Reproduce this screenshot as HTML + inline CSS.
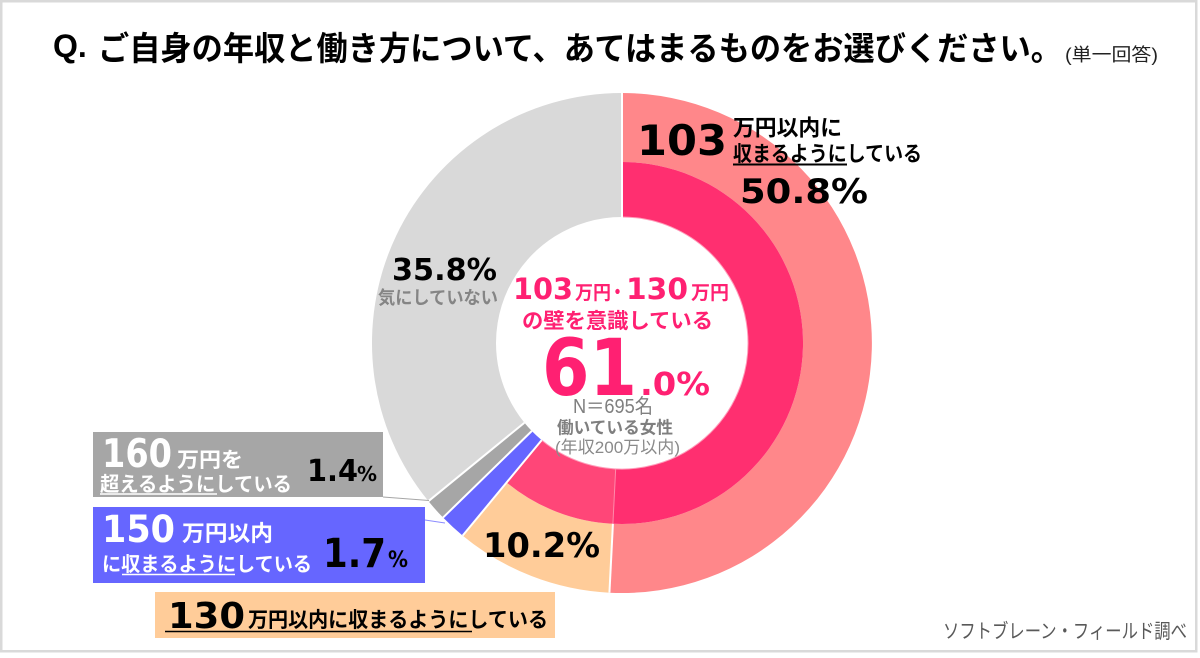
<!DOCTYPE html>
<html><head><meta charset="utf-8"><style>
html,body{margin:0;padding:0;background:#fff;}
svg{display:block;}
.jp{font-family:"Liberation Sans","Noto Sans CJK JP",sans-serif;}
.num{font-family:"DejaVu Sans","Liberation Sans",sans-serif;font-weight:bold;}
</style></head><body>
<svg width="1200" height="658" viewBox="0 0 1200 658" xmlns="http://www.w3.org/2000/svg">
<rect x="0" y="0" width="1200" height="658" fill="#fff"/>
<rect x="1.25" y="1.25" width="1195" height="650" fill="#fff" stroke="#D9D9D9" stroke-width="2.5"/>

<!-- Title -->
<text x="53" y="57" font-family="Liberation Sans, sans-serif" font-weight="bold" font-size="32" fill="#000">Q.</text>
<text class="jp" x="98" y="60" font-size="33" font-weight="bold" fill="#000" textLength="964" lengthAdjust="spacingAndGlyphs">ご自身の年収と働き方について、あてはまるものをお選びください。</text>
<text class="jp" x="1065" y="61" font-size="18" fill="#222" textLength="93" lengthAdjust="spacingAndGlyphs">(単一回答)</text>

<!-- Donut -->
<g>
<path d="M622 93 A250 250 0 1 1 609.44 592.69 L612.91 523.77 A181 181 0 1 0 622 162 Z" fill="#FF878A"/>
<path d="M609.44 592.69 A250 250 0 0 1 462.64 535.63 L506.63 482.46 A181 181 0 0 0 612.91 523.77 Z" fill="#FFCC99"/>
<path d="M622 162 A181 181 0 1 1 612.91 523.77 L615.67 468.84 A126 126 0 1 0 622 217 Z" fill="#FF2F70"/>
<path d="M612.91 523.77 A181 181 0 0 1 506.63 482.46 L541.69 440.08 A126 126 0 0 0 615.67 468.84 Z" fill="#FF4678"/>
<path d="M462.64 535.63 A250 250 0 0 1 443.03 517.56 L531.80 430.98 A126 126 0 0 0 541.69 440.08 Z" fill="#6666FF"/>
<path d="M443.03 517.56 A250 250 0 0 1 428.40 501.18 L524.43 422.72 A126 126 0 0 0 531.80 430.98 Z" fill="#A6A6A6"/>
<path d="M428.40 501.18 A250 250 0 0 1 622 93 L622 217 A126 126 0 0 0 524.43 422.72 Z" fill="#D9D9D9"/>
<path d="M622 217 A126 126 0 1 1 541.69 440.08" fill="none" stroke="#FF9DBA" stroke-width="1"/>
<g stroke="#fff" stroke-width="2">
<line x1="622" y1="92" x2="622" y2="218"/>
<line x1="609.44" y1="592.69" x2="612.91" y2="523.77"/>
<line x1="462.64" y1="535.63" x2="541.69" y2="440.08"/>
<line x1="443.03" y1="517.56" x2="531.80" y2="430.98"/>
<line x1="428.40" y1="501.18" x2="524.43" y2="422.72"/>
</g>
<line x1="612.91" y1="523.77" x2="615.67" y2="468.84" stroke="#FF8AAA" stroke-width="1"/>
</g>

<!-- 103 label -->
<text class="num" x="637" y="155" font-size="42" fill="#000" textLength="90" lengthAdjust="spacingAndGlyphs">103</text>
<text class="jp" x="733" y="135.5" font-size="22" font-weight="bold" fill="#000" textLength="109" lengthAdjust="spacingAndGlyphs">万円以内に</text>
<text class="jp" x="733" y="161" font-size="21" font-weight="bold" fill="#000" textLength="189" lengthAdjust="spacingAndGlyphs">収まるようにしている</text>
<line x1="733" y1="164.5" x2="847" y2="164.5" stroke="#000" stroke-width="2"/>
<text class="num" x="740" y="203" font-size="34" fill="#000" textLength="128" lengthAdjust="spacingAndGlyphs">50.8%</text>

<!-- 35.8% -->
<text class="num" x="392" y="280" font-size="30" fill="#000" textLength="105" lengthAdjust="spacingAndGlyphs">35.8%</text>
<text class="jp" x="378" y="304" font-size="18" font-weight="bold" fill="#858585" textLength="120" lengthAdjust="spacingAndGlyphs">気にしていない</text>

<!-- Center -->
<g fill="#FF2072">
<text class="num" x="513" y="299" font-size="29" textLength="60" lengthAdjust="spacingAndGlyphs">103</text>
<text class="jp" x="575" y="299" font-size="19" font-weight="bold" textLength="36" lengthAdjust="spacingAndGlyphs">万円</text>
<text class="jp" x="609" y="299" font-size="20" font-weight="bold" textLength="17" lengthAdjust="spacingAndGlyphs">・</text>
<text class="num" x="626" y="299" font-size="29" textLength="62" lengthAdjust="spacingAndGlyphs">130</text>
<text class="jp" x="691" y="299" font-size="19" font-weight="bold" textLength="38" lengthAdjust="spacingAndGlyphs">万円</text>
<text class="jp" x="522" y="328" font-size="21" font-weight="bold" textLength="191" lengthAdjust="spacingAndGlyphs">の壁を意識している</text>
<text class="num" x="542" y="395" font-size="78" textLength="95" lengthAdjust="spacingAndGlyphs">61</text>
<text class="num" x="640" y="395" font-size="32" textLength="70" lengthAdjust="spacingAndGlyphs">.0%</text>
</g>
<text class="jp" x="573" y="413" font-size="20" fill="#808080" textLength="80" lengthAdjust="spacingAndGlyphs">N＝695名</text>
<text class="jp" x="557" y="433.5" font-size="17" font-weight="bold" fill="#7F7F7F" textLength="116" lengthAdjust="spacingAndGlyphs">働いている女性</text>
<text class="jp" x="555" y="453" font-size="17" fill="#8A8A8A" textLength="125" lengthAdjust="spacingAndGlyphs">(年収200万以内)</text>

<!-- leader lines -->
<line x1="383" y1="497" x2="429" y2="500.5" stroke="#A6A6A6" stroke-width="1"/>
<line x1="425" y1="520" x2="445" y2="523" stroke="#8C8CFF" stroke-width="1"/>

<!-- 160 box -->
<rect x="93" y="432" width="290" height="65" fill="#A6A6A6"/>
<text class="num" x="102" y="467" font-size="39" fill="#fff" textLength="70" lengthAdjust="spacingAndGlyphs">160</text>
<text class="jp" x="177" y="467" font-size="21" font-weight="bold" fill="#fff" textLength="66" lengthAdjust="spacingAndGlyphs">万円を</text>
<text class="jp" x="100" y="491" font-size="20" font-weight="bold" fill="#fff" textLength="192" lengthAdjust="spacingAndGlyphs">超えるようにしている</text>
<line x1="100" y1="494" x2="217" y2="494" stroke="#fff" stroke-width="1.5"/>
<text class="num" x="307" y="481" font-size="30" fill="#000" textLength="51" lengthAdjust="spacingAndGlyphs">1.4</text>
<text class="num" x="357" y="481" font-size="20" fill="#000" textLength="20" lengthAdjust="spacingAndGlyphs">%</text>

<!-- 150 box -->
<rect x="93" y="507" width="332" height="76" fill="#6666FF"/>
<text class="num" x="102" y="542" font-size="37" fill="#fff" textLength="73" lengthAdjust="spacingAndGlyphs">150</text>
<text class="jp" x="182" y="541" font-size="22" font-weight="bold" fill="#fff" textLength="91" lengthAdjust="spacingAndGlyphs">万円以内</text>
<text class="jp" x="102" y="571" font-size="20" font-weight="bold" fill="#fff" textLength="210" lengthAdjust="spacingAndGlyphs">に収まるようにしている</text>
<line x1="122" y1="574.5" x2="235" y2="574.5" stroke="#fff" stroke-width="1.5"/>
<text class="num" x="323" y="567" font-size="40" fill="#000" textLength="63" lengthAdjust="spacingAndGlyphs">1.7</text>
<text class="num" x="388" y="567" font-size="22" fill="#000" textLength="20" lengthAdjust="spacingAndGlyphs">%</text>

<!-- 10.2% -->
<text class="num" x="483" y="557" font-size="34" fill="#000" textLength="117" lengthAdjust="spacingAndGlyphs">10.2%</text>

<!-- 130 box -->
<rect x="155" y="592" width="400" height="46" fill="#FFCC99"/>
<text class="num" x="168" y="628" font-size="36" fill="#000" textLength="77" lengthAdjust="spacingAndGlyphs">130</text>
<text class="jp" x="248" y="627" font-size="21" font-weight="bold" fill="#000" textLength="300" lengthAdjust="spacingAndGlyphs">万円以内に収まるようにしている</text>
<line x1="165" y1="631.5" x2="472" y2="631.5" stroke="#000" stroke-width="1.5"/>

<!-- footer -->
<text class="jp" x="943" y="638" font-size="20" fill="#595959" textLength="244" lengthAdjust="spacingAndGlyphs">ソフトブレーン・フィールド調べ</text>
</svg>
</body></html>
